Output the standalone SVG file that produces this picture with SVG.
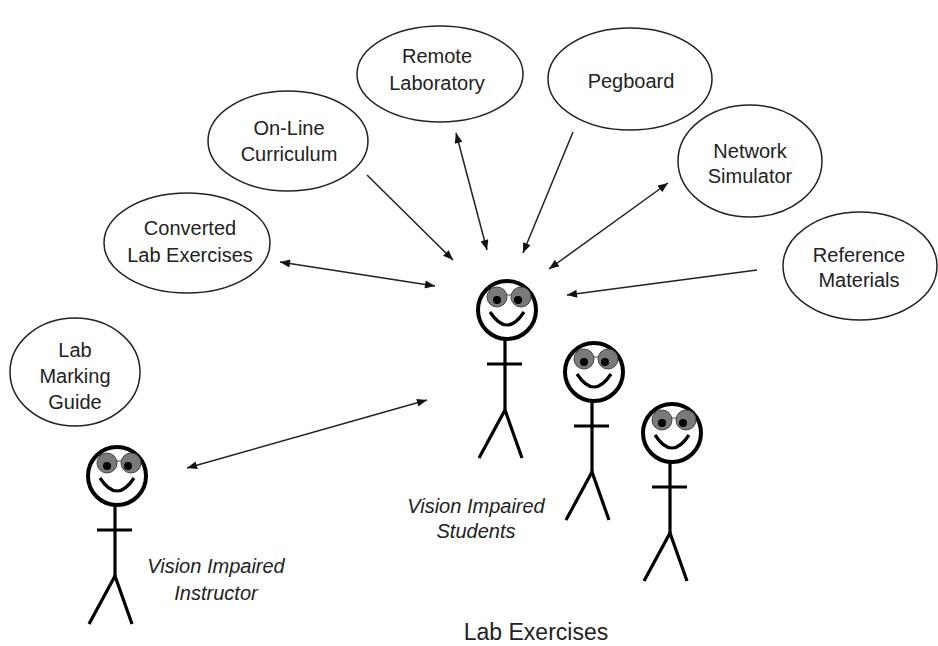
<svg xmlns="http://www.w3.org/2000/svg" xmlns:xlink="http://www.w3.org/1999/xlink" width="938" height="646" viewBox="0 0 938 646">
  <style>
    .bubble { fill: #ffffff; stroke: #222222; stroke-width: 1.5; }
    .label { font-family: "Liberation Sans", Arial, sans-serif; font-size: 20px; fill: #222222; text-anchor: middle; }
    .caption { font-family: "Liberation Sans", Arial, sans-serif; font-size: 20px; font-style: italic; fill: #222222; text-anchor: middle; }
    .title { font-family: "Liberation Sans", Arial, sans-serif; font-size: 23px; fill: #222222; text-anchor: middle; }
    .link { fill: none; stroke: #222222; stroke-width: 1.5; }
    .head { fill: #ffffff; stroke: #000000; stroke-width: 4; }
    .body { fill: none; stroke: #000000; stroke-width: 3.2; stroke-linecap: butt; }
    .lens { fill: #7a7a7a; stroke: #444444; stroke-width: 1; }
    .pupil { fill: #000000; }
  </style>
  <defs>
    <marker id="tip" viewBox="0 0 10 8" refX="10" refY="4" markerWidth="11" markerHeight="8" markerUnits="userSpaceOnUse" orient="auto-start-reverse">
      <path d="M0,0 L10,4 L0,8 Z" fill="#111111"/>
    </marker>
    <!-- stick figure with dark glasses, origin at the centre of the head -->
    <g id="figure">
      <circle class="head" cx="0" cy="0" r="29"/>
      <line x1="-1" y1="-15" x2="4" y2="-15" stroke="#444444" stroke-width="1"/>
      <circle class="lens" cx="-10" cy="-13" r="10"/>
      <circle class="lens" cx="14" cy="-13" r="10"/>
      <circle class="pupil" cx="-10" cy="-10" r="4"/>
      <circle class="pupil" cx="11" cy="-10" r="4"/>
      <path class="body" d="M-17,2 Q0,28 17,2" stroke-width="3.6"/>
      <line class="body" x1="-2" y1="30" x2="-2" y2="100"/>
      <line class="body" x1="-20" y1="54" x2="15" y2="54"/>
      <path class="body" d="M-28,148 L-2,100 L15,148"/>
    </g>
  </defs>

  <rect width="938" height="646" fill="#ffffff"/>

  <!-- connectors -->
  <g id="connectors">
    <line class="link" x1="280" y1="262" x2="435" y2="286" marker-start="url(#tip)" marker-end="url(#tip)"/>
    <line class="link" x1="367" y1="175" x2="453" y2="260" marker-end="url(#tip)"/>
    <line class="link" x1="456" y1="133" x2="487" y2="250" marker-start="url(#tip)" marker-end="url(#tip)"/>
    <line class="link" x1="573" y1="132" x2="523" y2="253" marker-end="url(#tip)"/>
    <line class="link" x1="668" y1="183" x2="549" y2="269" marker-start="url(#tip)" marker-end="url(#tip)"/>
    <line class="link" x1="757" y1="270" x2="567" y2="295" marker-end="url(#tip)"/>
    <line class="link" x1="187" y1="468" x2="427" y2="400" marker-start="url(#tip)" marker-end="url(#tip)"/>
  </g>

  <!-- resources -->
  <g id="lab-marking-guide">
    <ellipse class="bubble" cx="75" cy="372" rx="65" ry="54"/>
    <text class="label" x="75" y="357">Lab</text>
    <text class="label" x="75" y="383">Marking</text>
    <text class="label" x="75" y="409">Guide</text>
  </g>
  <g id="converted-lab-exercises">
    <ellipse class="bubble" cx="187" cy="243" rx="83" ry="50"/>
    <text class="label" x="190" y="235">Converted</text>
    <text class="label" x="190" y="262">Lab Exercises</text>
  </g>
  <g id="online-curriculum">
    <ellipse class="bubble" cx="288" cy="141" rx="80" ry="50"/>
    <text class="label" x="289" y="135">On-Line</text>
    <text class="label" x="289" y="161">Curriculum</text>
  </g>
  <g id="remote-laboratory">
    <ellipse class="bubble" cx="440" cy="74" rx="83" ry="48"/>
    <text class="label" x="437" y="63">Remote</text>
    <text class="label" x="437" y="90">Laboratory</text>
  </g>
  <g id="pegboard">
    <ellipse class="bubble" cx="630" cy="79" rx="82" ry="51"/>
    <text class="label" x="631" y="88">Pegboard</text>
  </g>
  <g id="network-simulator">
    <ellipse class="bubble" cx="750" cy="161" rx="72" ry="56"/>
    <text class="label" x="750" y="158">Network</text>
    <text class="label" x="750" y="183">Simulator</text>
  </g>
  <g id="reference-materials">
    <ellipse class="bubble" cx="860" cy="266" rx="77" ry="54"/>
    <text class="label" x="859" y="262">Reference</text>
    <text class="label" x="859" y="287">Materials</text>
  </g>

  <!-- people -->
  <g id="instructor">
    <use xlink:href="#figure" href="#figure" x="117" y="476"/>
    <text class="caption" x="216" y="573">Vision Impaired</text>
    <text class="caption" x="216" y="600">Instructor</text>
  </g>
  <g id="students">
    <use xlink:href="#figure" href="#figure" x="507" y="310"/>
    <use xlink:href="#figure" href="#figure" x="594" y="372"/>
    <use xlink:href="#figure" href="#figure" x="672" y="433"/>
    <text class="caption" x="476" y="513">Vision Impaired</text>
    <text class="caption" x="476" y="538">Students</text>
  </g>

  <text class="title" x="536" y="640">Lab Exercises</text>
</svg>
